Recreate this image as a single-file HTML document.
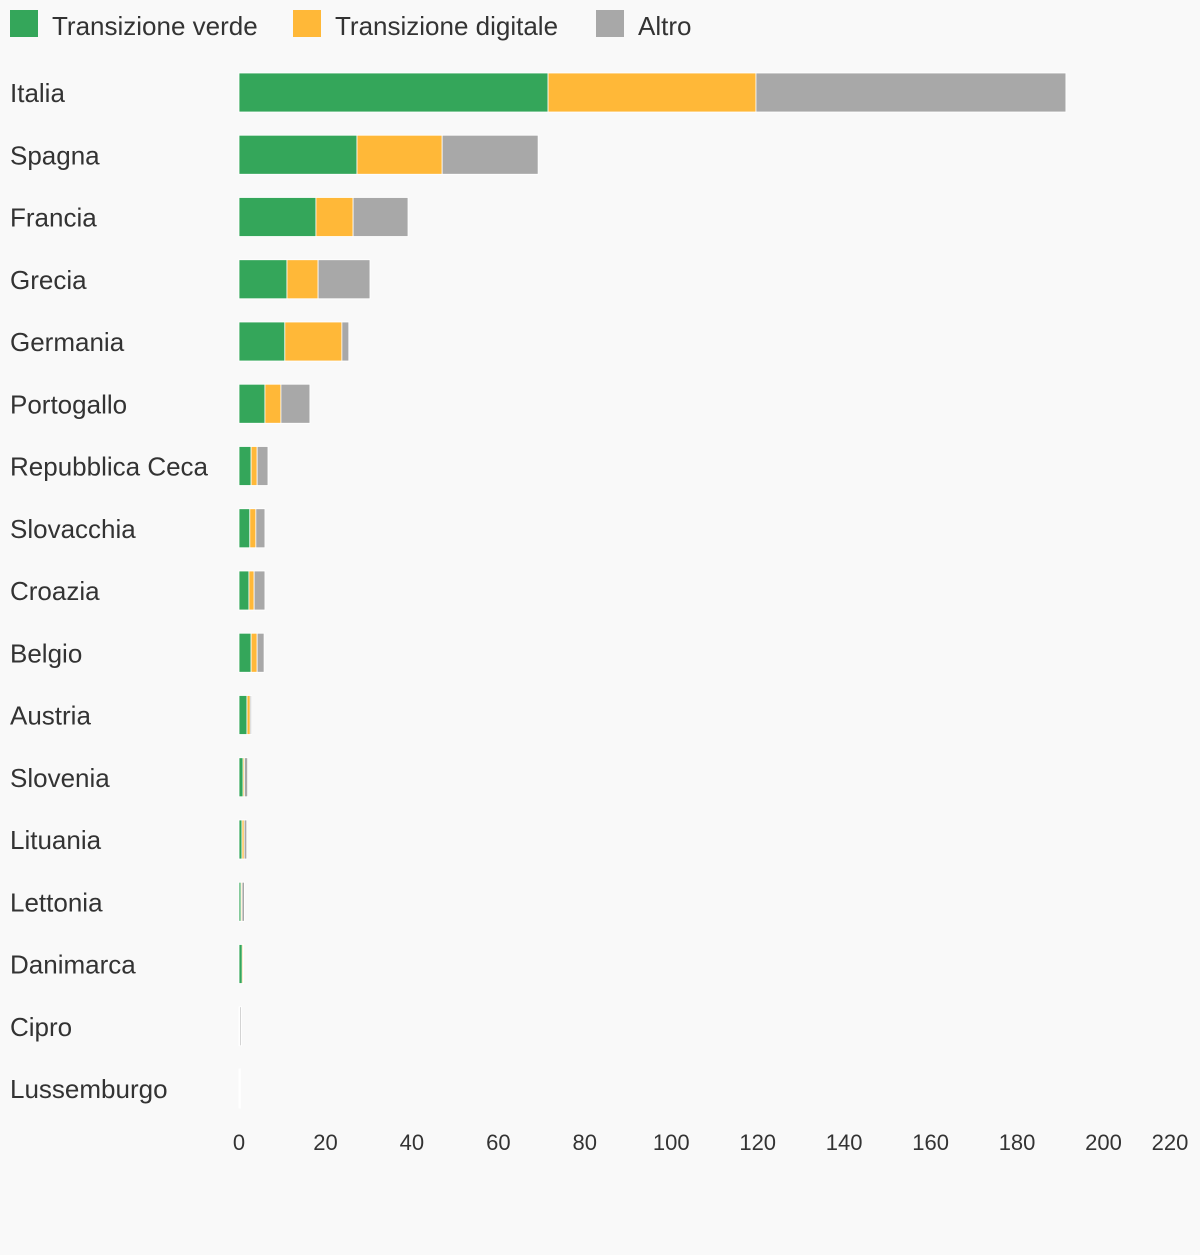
<!DOCTYPE html>
<html><head><meta charset="utf-8"><style>
body{margin:0;background:#f9f9f9;font-family:"Liberation Sans",sans-serif;}
</style></head><body>
<svg id="chart" width="1200" height="1250" xmlns="http://www.w3.org/2000/svg">
<rect width="1200" height="1250" fill="#f9f9f9"/>
<g>
<rect x="10" y="10" width="28" height="27" fill="#34a65a"/>
<text x="52" y="35" font-size="26" fill="#333">Transizione verde</text>
<rect x="293" y="10" width="28" height="27" fill="#ffb838"/>
<text x="335" y="35" font-size="26" fill="#333">Transizione digitale</text>
<rect x="596" y="10" width="28" height="27" fill="#a8a8a8"/>
<text x="638" y="35" font-size="26" fill="#333">Altro</text>
</g>
<g id="bars"></g>
<g id="labels"></g>
<g id="ticks"></g>
</svg>
<script>
const countries=["Italia","Spagna","Francia","Grecia","Germania","Portogallo","Repubblica Ceca","Slovacchia","Croazia","Belgio","Austria","Slovenia","Lituania","Lettonia","Danimarca","Cipro","Lussemburgo"];
const verde=[71.5,27.3,17.8,11.1,10.6,6.0,2.8,2.5,2.3,2.8,1.85,0.95,0.7,0.45,0.75,0.15,0.15];
const digitale=[48.1,19.7,8.6,7.2,13.2,3.7,1.4,1.4,1.2,1.4,0.75,0.3,0.5,0.25,0.25,0.1,0.15];
const altro=[71.7,22.2,12.7,12.0,1.6,6.7,2.5,2.1,2.5,1.6,0.3,0.75,0.6,0.55,0.05,0.3,0.05];
const ticks=[0,20,40,60,80,100,120,140,160,180,200,220];
const NS="http://www.w3.org/2000/svg";
const x0=239,scale=4.3225;
const xs=v=>x0+v*scale;
const ys=i=>73+i*62.25;
const barH=39;
const series=[[verde,"#34a65a","verde"],[digitale,"#ffb838","digitale"],[altro,"#a8a8a8","altro"]];
const gb=document.getElementById("bars"),gl=document.getElementById("labels"),gt=document.getElementById("ticks");
countries.forEach((c,i)=>{
  let acc=0;
  series.forEach(([arr,col,nm])=>{
    const r=document.createElementNS(NS,"rect");
    r.setAttribute("x",xs(acc));r.setAttribute("y",ys(i));
    r.setAttribute("width",Math.max(arr[i]*scale,0));r.setAttribute("height",barH);
    r.setAttribute("fill",col);r.setAttribute("stroke","#fff");r.setAttribute("stroke-width","0.8");
    
    
    gb.appendChild(r);acc+=arr[i];
  });
  const t=document.createElementNS(NS,"text");
  t.setAttribute("x",10);t.setAttribute("y",ys(i)+29);t.setAttribute("font-size","26");t.setAttribute("fill","#333");
  t.textContent=c;
  
  
  gl.appendChild(t);
});
ticks.forEach(v=>{
  const t=document.createElementNS(NS,"text");
  t.setAttribute("x",Math.min(xs(v),1170));t.setAttribute("y",1150);t.setAttribute("font-size","22");
  t.setAttribute("fill","#333");t.setAttribute("text-anchor","middle");
  t.textContent=v;
  
  
  gt.appendChild(t);
});
</script>
</body></html>
